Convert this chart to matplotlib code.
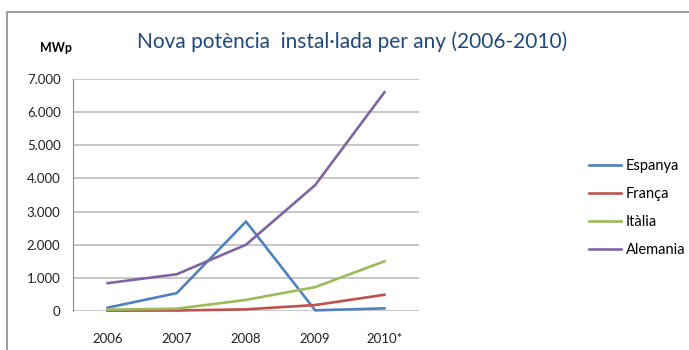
import matplotlib.pyplot as plt
from matplotlib.patches import Rectangle
from matplotlib.ticker import FuncFormatter

plt.rcParams['font.family'] = ['Lato', 'DejaVu Sans']

anys = ['2006', '2007', '2008', '2009', '2010*']
espanya = [100, 540, 2700, 20, 80]
franca = [10, 15, 50, 180, 490]
italia = [40, 70, 335, 720, 1500]
alemania = [840, 1110, 2000, 3800, 6600]

series = [('Espanya', espanya, '#4F81BD'),
          ('França', franca, '#C0504D'),
          ('Itàlia', italia, '#9BBB59'),
          ('Alemania', alemania, '#8064A2')]

fig = plt.figure(figsize=(6.89, 3.5), dpi=100)
# marc exterior del gràfic
fig.patches.append(Rectangle((7 / 689, -0.1), 1.1, 1 - 12 / 350 + 0.1,
                             transform=fig.transFigure, fill=False,
                             edgecolor='#8C8C8C', linewidth=1.2))

ax = fig.add_axes([73 / 689, 39 / 350, 346 / 689, 232 / 350])
x = range(len(anys))
for nom, vals, color in series:
    ax.plot(x, vals, color=color, linewidth=1.9, label=nom, clip_on=False)

ax.set_xlim(-0.5, 4.5)
ax.set_ylim(0, 7000)
ax.set_yticks(range(0, 7001, 1000))
ax.yaxis.set_major_formatter(FuncFormatter(lambda v, p: f'{int(v):,}'.replace(',', '.')))
ax.set_xticks(list(x))
ax.set_xticklabels(anys)
ax.tick_params(axis='both', length=0, labelsize=9.5, colors='#222222')
ax.tick_params(axis='y', pad=9)
ax.tick_params(axis='x', pad=16)
ax.grid(True, axis='y', color='#BEBEBE', linewidth=1.2)
ax.set_axisbelow(True)
for s in ['top', 'right', 'bottom']:
    ax.spines[s].set_visible(False)
ax.spines['left'].set_color('#8C8C8C')

fig.text(352 / 689, 1 - 42 / 350, 'Nova potència  instal·lada per any (2006-2010)',
         ha='center', va='center', fontsize=15, color='#1F497D')
fig.text(40 / 689, 1 - 48 / 350, 'MWp', ha='left', va='center',
         fontsize=9, fontweight='bold')

fig.legend(loc='upper left', bbox_to_anchor=(576 / 689, 1 - 146 / 350),
           frameon=False, fontsize=10.5, handlelength=2.2, handletextpad=0.3,
           labelspacing=0.95)

fig.savefig('out.png', dpi=100)
